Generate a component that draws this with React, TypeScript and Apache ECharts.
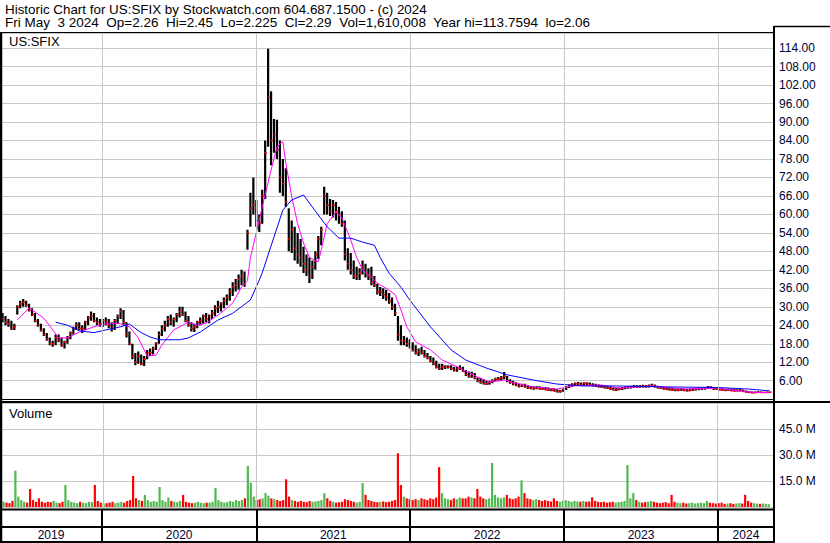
import React, { useEffect, useRef } from "react";
import * as echarts from "echarts";

// ---------- DATA (weekly bars, first week ending 2019-05-10) ----------
const firstWeekDate = "2019-05-10";
const years = ["2019", "2020", "2021", "2022", "2023", "2024"];
const priceTicks = [6, 12, 18, 24, 30, 36, 42, 48, 54, 60, 66, 72, 78, 84, 90, 96, 102, 108, 114];
const volumeTicks = [15, 30, 45];

const highs = [
  28, 27, 26, 25.5, 24.5, 30.5, 32, 32.5, 32, 31,
  29.5, 28, 26, 24.5, 23, 21.5, 20, 19, 21, 21,
  20, 19, 20.5, 22, 23.5, 25, 25, 24, 25.5, 27,
  28.5, 28, 26.5, 26, 26, 26.5, 26, 25, 26, 27.5,
  29.5, 29, 25, 22, 18, 15, 15.5, 14.5, 14, 16,
  16.5, 17, 18.5, 22, 24, 25.5, 27, 27.5, 26.5, 28,
  30, 30, 28.5, 27, 25, 24.5, 25.5, 26.5, 27.5, 28,
  27.5, 29, 30.5, 32, 31.5, 33, 34, 36, 38, 39,
  40.5, 42, 41.5, 55, 67, 72, 64.7, 60, 68, 84,
  113.76, 100, 91, 90.7, 84, 78, 75, 62, 58, 56,
  54, 52, 49.5, 47, 46, 45, 48, 53, 56, 69,
  67, 65, 64.7, 64, 62.5, 61, 58, 49, 47.5, 45,
  43, 42.5, 45, 44, 42.5, 43, 40, 37.5, 36.4, 36,
  35.5, 34.5, 33, 31, 27, 24, 20.5, 20, 19.5, 18.5,
  17.5, 16.5, 17, 16, 15, 14, 13.5, 12.5, 11.5, 11.5,
  11, 11, 11, 10.5, 10.5, 11, 10.5, 9.5, 9, 8.9,
  8.5, 7, 6.9, 6.5, 6, 6, 6.5, 7, 7.2, 7.5,
  8.8, 7.5, 6.5, 6, 5.5, 5, 5, 5, 4.5, 4.3,
  4.2, 4.3, 4.2, 4, 4, 3.8, 3.6, 3.5, 3.2, 3,
  3.5, 4.2, 4.8, 5.2, 5.4, 5.6, 5.4, 5.5, 5.5, 5.4,
  5.2, 5, 4.8, 4.6, 4.5, 4.3, 4.1, 3.8, 3.6, 3.8,
  4, 4.2, 4.3, 4.4, 4.6, 4.5, 4.6, 4.7, 4.6, 4.8,
  5, 4.8, 4.4, 4.2, 4, 3.8, 3.7, 3.6, 3.5, 3.5,
  3.6, 3.5, 3.4, 3.5, 3.6, 3.7, 3.8, 3.9, 4, 4.3,
  4.2, 3.9, 3.8, 3.6, 3.5, 3.4, 3.5, 3.4, 3.3, 3.2,
  3.3, 3.1, 2.8, 2.6, 2.5, 2.5, 2.6, 2.5, 2.4, 2.4, 2.45,
];

const lows = [
  25, 24, 23.5, 22.5, 22.5, 27.5, 29.5, 30, 30, 28.5,
  27, 25, 23.5, 22, 20.5, 19, 17.5, 17, 17.5, 18.5,
  17, 16.5, 18, 19.5, 21, 22.5, 22.5, 21.5, 22.5, 24,
  25.5, 25, 24, 23.5, 23.5, 24, 23, 22, 22.5, 24.5,
  26, 24, 20, 17.5, 13, 11, 11.5, 11, 10.8, 13,
  14, 14.5, 16, 18, 20.5, 22, 23.5, 24, 23.5, 25,
  26.5, 27, 25, 23.5, 22, 21.8, 23, 24, 24.5, 25,
  24.7, 26, 27, 28, 28.5, 29.5, 30.5, 32, 33.5, 35,
  35.5, 37, 36.5, 48.5, 56, 60, 56, 54.3, 57, 65,
  82, 76, 80, 78, 67, 66, 62.5, 48, 47.5, 45,
  44, 43, 41, 40, 37.7, 39, 42, 45.5, 50, 60,
  60, 59.5, 59, 58, 57, 56, 45, 42, 40.5, 39,
  38.7, 38.7, 40.5, 39.5, 38.7, 37, 36.4, 34, 33.5, 32.5,
  32, 31, 29, 27, 19, 17.5, 17.5, 17, 16.5, 15.5,
  14.5, 14, 14.5, 13.5, 13, 12, 11, 10, 9.5, 9.5,
  9.8, 10, 9.5, 9, 8.9, 9.5, 8.9, 7.5, 7, 7,
  6.5, 5.5, 5, 4.8, 4.6, 4.7, 5.2, 5.8, 6, 6.2,
  6.5, 5.5, 5, 4.5, 4.3, 3.8, 4, 3.8, 3.3, 3.2,
  3.1, 3.2, 3.1, 3, 2.9, 2.7, 2.6, 2.5, 2.2, 2.1,
  2.4, 3, 3.6, 4, 4.3, 4.5, 4.4, 4.5, 4.6, 4.4,
  4.2, 4, 3.8, 3.6, 3.5, 3.3, 3, 2.8, 2.7, 2.9,
  3, 3.2, 3.4, 3.5, 3.6, 3.6, 3.7, 3.8, 3.7, 3.8,
  4, 3.8, 3.5, 3.3, 3.1, 3, 2.8, 2.7, 2.6, 2.6,
  2.7, 2.6, 2.5, 2.6, 2.7, 2.8, 2.9, 3, 3.1, 3.3,
  3.3, 3, 3, 2.8, 2.7, 2.6, 2.7, 2.6, 2.5, 2.5,
  2.5, 2.3, 2.1, 2, 1.9, 1.9, 2, 2, 2, 2.06, 2.225,
];

const closes = [
  26, 25, 24.5, 23, 23.5, 30, 31, 31.5, 30.5, 29,
  27.5, 25.5, 24, 22.5, 21, 19.5, 18, 18, 20, 19,
  17.5, 18.5, 20, 21.5, 23, 24, 23, 23, 25, 26.5,
  27, 25.5, 25, 24.5, 25.5, 25, 24, 23, 25.5, 27,
  28.5, 25, 21, 18, 14, 12, 14, 11.5, 13, 15,
  15, 16.5, 18, 21, 23, 24, 26, 25, 26, 27.5,
  28.5, 27.5, 25.5, 24, 23, 23.5, 25, 25.5, 27, 26,
  27, 28, 29.5, 30, 31, 32, 33, 35, 36.5, 37,
  39, 40, 37.5, 54, 62, 63, 58, 57, 66, 80,
  98, 84, 86, 81, 72, 70, 64, 52, 55, 49,
  47, 46, 44, 42, 40, 43, 47, 52, 55, 66,
  63, 61, 63, 61, 60, 57, 47, 44, 42, 40,
  40, 41, 43, 41, 40, 38, 37, 35, 35, 34,
  33, 32, 30, 28, 21, 19, 19, 18, 17, 16,
  15, 15.5, 15, 14, 13.5, 12.5, 11.5, 10.5, 10, 10.5,
  10.5, 10.5, 10, 9.5, 10, 10, 9, 8, 7.5, 8,
  7, 6, 5.5, 5, 5, 5.5, 6, 6.5, 6.5, 7,
  7.5, 6, 5.5, 5, 4.5, 4.2, 4.5, 4, 3.7, 3.5,
  3.5, 3.7, 3.4, 3.3, 3.1, 3, 2.9, 2.7, 2.5, 2.6,
  3.2, 3.9, 4.5, 4.8, 5, 5, 4.8, 5.2, 5, 4.7,
  4.5, 4.3, 4.1, 4, 3.8, 3.6, 3.3, 3.1, 3.2, 3.4,
  3.5, 3.8, 3.9, 4, 4.2, 4, 4.3, 4.2, 4.1, 4.4,
  4.5, 4.1, 3.8, 3.6, 3.4, 3.2, 3.1, 3, 2.9, 3,
  3.1, 2.9, 2.8, 3, 3.2, 3.3, 3.4, 3.5, 3.7, 3.9,
  3.6, 3.4, 3.3, 3.1, 3, 2.9, 3, 2.8, 2.7, 2.8,
  2.9, 2.5, 2.3, 2.2, 2.1, 2.2, 2.3, 2.2, 2.2, 2.25, 2.29,
];

// daily-typical volume in millions, one value per week
const volumes = [
  3, 2.5, 2.2, 3.5, 21, 6, 4, 3, 2.5, 10.4,
  4, 3, 5, 3, 2.5, 3, 2.8, 3.5, 2.5, 2.2,
  3, 12.7, 4, 3, 2.5, 2.2, 3, 2.5, 2.2, 3,
  2.8, 12.7, 3.5, 2.5, 2, 2.2, 2.5, 3, 2.2, 2.5,
  3, 2.5, 3.5, 4, 17.9, 5, 4, 3.5, 7, 4,
  3, 3.5, 3, 11.5, 4, 3, 5.5, 3.5, 3, 2.8,
  3.5, 7, 3, 2.5, 2.2, 2.5, 3, 2.5, 2.2, 2.5,
  2.5, 3, 11, 4, 3, 2.5, 2.8, 3.5, 3, 4,
  3.5, 4, 5, 23.7, 14, 6, 4, 4.5, 5, 8,
  6.5, 5, 4.5, 4, 3.5, 4, 16, 6, 4, 3.5,
  3, 3.5, 3, 2.8, 3.5, 3, 3.2, 3.5, 4, 8,
  5, 3.5, 3, 2.5, 2.8, 3, 4.5, 4, 3.5, 3,
  2.5, 3, 13.8, 7, 4, 3.5, 3, 2.8, 3, 3.2,
  2.8, 3, 3.5, 4, 31, 12.7, 6, 5, 4.5, 4,
  4.5, 4, 5, 4.5, 4, 5, 4.5, 5.5, 23, 8,
  5, 4.5, 4, 5, 4.5, 5.5, 5, 5, 6, 5.5,
  5, 10.4, 6, 5, 4.5, 5, 25.4, 7, 5.5, 5,
  5.5, 7, 5, 4.5, 5, 6, 15.4, 8, 5, 4.5,
  4, 4.5, 4, 3.5, 4, 3.5, 3.2, 5, 3.5, 3,
  3.5, 4, 3.5, 3, 3.5, 3.2, 3, 3.5, 3, 3.2,
  5.6, 3.5, 3, 2.8, 3, 2.5, 2.8, 3, 2.5, 2.8,
  3, 3.5, 24.2, 5, 8, 4, 3, 2.5, 2.8, 3,
  3.5, 3, 2.5, 2.2, 2.5, 2.8, 2.2, 7, 3, 2.5,
  2.2, 2.5, 2, 2.2, 2.5, 2, 2.2, 2.5, 2.2, 3.5,
  2.5, 2.2, 2, 2.2, 2.5, 1.8, 2, 2.2, 1.8, 2,
  2.2, 2, 7, 3.5, 2.5, 2.2, 2, 1.8, 2, 1.8, 1.6,
];

// moving averages (week index, value)
const maFastWeeks = [5, 9, 10, 14, 17, 19, 22, 26, 31, 36, 40, 43, 46, 48, 49, 52, 54, 58, 63, 66, 69, 74, 78, 81, 83, 84, 86, 88, 91, 93, 95, 96, 98, 100, 102, 104, 107, 108, 110, 113, 115, 118, 120, 122, 125, 127, 130, 133, 135, 137, 140, 145, 149, 155, 161, 165, 170, 174, 180, 188, 193, 203, 209, 220, 231, 242, 253, 260];
const maFastVals = [25.7, 29.6, 29, 26.3, 22.5, 19.9, 19.9, 21.8, 23.5, 24.7, 24.5, 23.5, 19.9, 16, 14, 14.3, 17.6, 22.5, 25, 24, 24.7, 28, 31.2, 36.5, 38.5, 46, 54, 62.4, 74.4, 82, 83.6, 76.7, 65.7, 57, 50.7, 46, 44.6, 48.4, 57, 60.8, 59, 51.7, 46, 42, 39.7, 37.7, 36, 34, 29, 23.5, 18.6, 16, 12.7, 10.1, 7.2, 5.6, 6.2, 5.2, 4, 3.3, 4.3, 4.6, 3.6, 4.3, 3.3, 3.6, 2.3, 2.1];
const maSlowWeeks = [18, 22, 26, 31, 35, 40, 43, 47, 50, 53, 60, 63, 67, 73, 78, 84, 87, 88, 92, 95, 98, 102, 104, 107, 110, 114, 118, 122, 126, 128, 131, 135, 138, 145, 152, 157, 164, 171, 180, 188, 197, 208, 225, 242, 253, 260];
const maSlowVals = [25, 24, 22.2, 21.6, 22.5, 23.5, 24.4, 21.6, 20.2, 19.3, 19.3, 19.9, 21.8, 25.7, 27.9, 32.2, 38.7, 41, 52.7, 61.4, 64.7, 66.3, 63.7, 59.8, 56, 52.3, 52.3, 51, 50, 46, 40.9, 36.4, 32.2, 23.5, 16, 12.7, 10.1, 7.9, 6.2, 4.9, 4.3, 4.3, 4, 3.8, 3.3, 2.7];

const titleLine1 = "Historic Chart for US:SFIX by Stockwatch.com 604.687.1500 - (c) 2024";
const titleLine2 =
  "Fri May\u00a0 3 2024\u00a0 Op=2.26\u00a0 Hi=2.45\u00a0 Lo=2.225\u00a0 Cl=2.29\u00a0 Vol=1,610,008\u00a0 Year hi=113.7594\u00a0 lo=2.06";

// ---------- helpers ----------
const DAY = 86400000;
const utc = (s: string) => {
  const [y, m, d] = s.split("-").map(Number);
  return Date.UTC(y, m - 1, d);
};
const firstWeek = utc(firstWeekDate);
const weekTime = (i: number) => firstWeek + i * 7 * DAY;
const xMin = utc("2019-05-04");
const xMax = utc("2024-05-13");

const FONT = "'Liberation Sans', Arial, sans-serif";
const LABEL_COLOR = "#000033";
const GRID_GRAY = "#c8c8c8";

export default function App() {
  const ref = useRef<HTMLDivElement>(null);

  useEffect(() => {
    if (!ref.current) return;
    const chart = echarts.init(ref.current, null, { renderer: "svg" });

    const ohlc = highs.map((h, i) => [weekTime(i), h, lows[i], closes[i]]);
    const volData = volumes.map((v, i) => [weekTime(i), v]);
    const volColors = closes.map((c, i) =>
      i === 0 || c >= closes[i - 1] ? "#4fb84f" : "#ff0000"
    );
    const fast = maFastWeeks.map((w, i) => [weekTime(w), maFastVals[i]]);
    const slow = maSlowWeeks.map((w, i) => [weekTime(w), maSlowVals[i]]);

    const yearBoundaries = years.slice(1).map((y) => Date.UTC(Number(y), 0, 1));
    const yearAreas = years.map((y) => {
      const s = Math.max(Date.UTC(Number(y), 0, 1), xMin);
      const e = Math.min(Date.UTC(Number(y) + 1, 0, 1), xMax);
      return [
        { xAxis: s, yAxis: 0, name: y },
        { xAxis: e, yAxis: 15 },
      ];
    });

    const gridLines = (xi: number, yi: number, color: string, width: number) => ({
      type: "line",
      xAxisIndex: xi,
      yAxisIndex: yi,
      data: [],
      z: 1,
      silent: true,
      markLine: {
        symbol: ["none", "none"],
        silent: true,
        animation: false,
        label: { show: false },
        lineStyle: { color, width, type: "solid" },
        data: yearBoundaries.map((t) => ({ xAxis: t })),
      },
    });

    const priceSet = new Set(priceTicks);
    const volSet = new Set(volumeTicks);

    const option: any = {
      animation: false,
      backgroundColor: "#ffffff",
      textStyle: { fontFamily: FONT },
      grid: [
        { left: 0, right: 56, top: 33, height: 366.2, containLabel: false, outerBoundsMode: "none" },
        { left: 0, right: 56, top: 403, height: 104, containLabel: false, outerBoundsMode: "none" },
        { left: 0, right: 56, top: 510, height: 32, containLabel: false, outerBoundsMode: "none" },
      ],
      xAxis: [0, 1, 2].map((g) => ({
        type: "time",
        gridIndex: g,
        min: xMin,
        max: xMax,
        show: false,
        splitLine: { show: false },
      })),
      yAxis: [
        {
          type: "value",
          gridIndex: 0,
          position: "right",
          min: 0,
          max: 118.9,
          interval: 6,
          axisLine: { show: false },
          axisTick: { show: false },
          splitLine: { show: true, lineStyle: { color: GRID_GRAY, width: 1 } },
          axisLabel: {
            show: true,
            margin: 5,
            color: LABEL_COLOR,
            fontSize: 12,
            fontFamily: FONT,
            align: "left",
            formatter: (v: number) => (priceSet.has(Math.round(v * 100) / 100) ? v.toFixed(2) : ""),
          },
        },
        {
          type: "value",
          gridIndex: 1,
          position: "right",
          min: 0,
          max: 60,
          interval: 15,
          axisLine: { show: false },
          axisTick: { show: false },
          splitLine: { show: true, lineStyle: { color: GRID_GRAY, width: 1 } },
          axisLabel: {
            show: true,
            margin: 5,
            color: LABEL_COLOR,
            fontSize: 12,
            fontFamily: FONT,
            align: "left",
            formatter: (v: number) => (volSet.has(v) ? v.toFixed(1) + " M" : ""),
          },
        },
        { type: "value", gridIndex: 2, min: 0, max: 32, show: false, splitLine: { show: false } },
      ],
      series: [
        gridLines(0, 0, GRID_GRAY, 1),
        gridLines(1, 1, GRID_GRAY, 1),
        {
          ...gridLines(2, 2, "#000000", 2),
          markArea: {
            silent: true,
            itemStyle: { color: "rgba(0,0,0,0)", borderWidth: 0 },
            label: {
              show: true,
              position: "inside",
              color: LABEL_COLOR,
              fontSize: 12,
              fontFamily: FONT,
            },
            data: yearAreas,
          },
        },
        {
          type: "custom",
          name: "price",
          xAxisIndex: 0,
          yAxisIndex: 0,
          z: 2,
          clip: true,
          data: ohlc,
          encode: { x: 0, y: [1, 2, 3] },
          renderItem: (params: any, api: any) => {
            const t = api.value(0);
            const pH = api.coord([t, api.value(1)]);
            const pL = api.coord([t, api.value(2)]);
            const pC = api.coord([t, api.value(3)]);
            return {
              type: "group",
              children: [
                {
                  type: "rect",
                  shape: { x: pH[0] - 1.1, y: pH[1], width: 2.2, height: Math.max(pL[1] - pH[1], 1) },
                  style: { fill: "#000000" },
                },
                {
                  type: "rect",
                  shape: { x: pC[0] - 0.5, y: pC[1] - 0.7, width: 2.2, height: 1.5 },
                  style: { fill: "#ff0000" },
                },
              ],
            };
          },
        },
        {
          type: "line",
          name: "fast",
          xAxisIndex: 0,
          yAxisIndex: 0,
          data: fast,
          showSymbol: false,
          symbol: "none",
          z: 3,
          lineStyle: { color: "#ff00ff", width: 1 },
        },
        {
          type: "line",
          name: "slow",
          xAxisIndex: 0,
          yAxisIndex: 0,
          data: slow,
          showSymbol: false,
          symbol: "none",
          z: 3,
          lineStyle: { color: "#0000ff", width: 1 },
        },
        {
          type: "bar",
          name: "volume",
          xAxisIndex: 1,
          yAxisIndex: 1,
          data: volData,
          barWidth: 2.2,
          z: 2,
          itemStyle: { color: (p: any) => volColors[p.dataIndex] },
        },
      ],
      graphic: [
        { type: "text", x: 5, y: 9.5, scaleX: 1.03, z: 100, style: { text: titleLine1, font: `13px ${FONT}`, fill: "#000", verticalAlign: "middle" } },
        { type: "text", x: 5, y: 22.5, scaleX: 1.04, z: 100, style: { text: titleLine2, font: `13px ${FONT}`, fill: "#000", verticalAlign: "middle" } },
        { type: "text", x: 9, y: 41, z: 100, style: { text: "US:SFIX", font: `13px ${FONT}`, fill: "#000", verticalAlign: "middle" } },
        { type: "text", x: 9, y: 413, z: 100, style: { text: "Volume", font: `13px ${FONT}`, fill: "#000", verticalAlign: "middle" } },
        // frame lines
        { type: "line", z: 100, shape: { x1: 0, y1: 32.5, x2: 774, y2: 32.5 }, style: { stroke: "#000", lineWidth: 1 } },
        { type: "line", z: 100, shape: { x1: 774, y1: 26.5, x2: 830, y2: 26.5 }, style: { stroke: "#000", lineWidth: 1.5 } },
        { type: "line", z: 100, shape: { x1: 1, y1: 32, x2: 1, y2: 543 }, style: { stroke: "#000", lineWidth: 2.5 } },
        { type: "line", z: 100, shape: { x1: 774, y1: 26, x2: 774, y2: 543 }, style: { stroke: "#000", lineWidth: 2 } },
        { type: "line", z: 100, shape: { x1: 0, y1: 399.5, x2: 774, y2: 399.5 }, style: { stroke: "#000", lineWidth: 1 } },
        { type: "line", z: 100, shape: { x1: 0, y1: 402, x2: 830, y2: 402 }, style: { stroke: "#000", lineWidth: 2 } },
        { type: "line", z: 100, shape: { x1: 0, y1: 509.5, x2: 774, y2: 509.5 }, style: { stroke: "#000", lineWidth: 2 } },
        { type: "line", z: 100, shape: { x1: 0, y1: 527, x2: 774, y2: 527 }, style: { stroke: "#000", lineWidth: 2 } },
        { type: "line", z: 100, shape: { x1: 0, y1: 542, x2: 774, y2: 542 }, style: { stroke: "#000", lineWidth: 2 } },
      ],
    };

    chart.setOption(option);
    return () => chart.dispose();
  }, []);

  return (
    <div
      ref={ref}
      style={{ position: "fixed", left: 0, top: 0, width: 830, height: 543, background: "#fff" }}
    />
  );
}
